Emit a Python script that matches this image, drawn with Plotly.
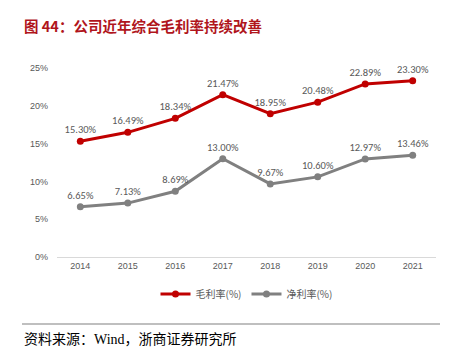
import plotly.graph_objects as go

years = ["2014", "2015", "2016", "2017", "2018", "2019", "2020", "2021"]
gross_margin = [15.30, 16.49, 18.34, 21.47, 18.95, 20.48, 22.89, 23.30]
net_margin = [6.65, 7.13, 8.69, 13.00, 9.67, 10.60, 12.97, 13.46]
y_ticks = [0, 5, 10, 15, 20, 25]
y_tick_labels = ["0%", "5%", "10%", "15%", "20%", "25%"]

W, H = 450, 364
L, R, T, B = 57, 14, 68, 107
pw, ph = W - L - R, H - T - B

def px_x(x):
    return (x - L) / pw

def px_y(y):
    return (H - B - y) / ph

fig = go.Figure()
for name, vals, color in [("毛利率(%)", gross_margin, "#C00000"), ("净利率(%)", net_margin, "#808080")]:
    fig.add_trace(go.Scatter(
        x=years, y=vals, name=name, mode="lines+markers+text",
        line=dict(color=color, width=3),
        marker=dict(color=color, size=7),
        text=[f"{v:.2f}%" for v in vals],
        textposition="top center",
        cliponaxis=False,
        textfont=dict(size=10.5, color="#595959", family="Calibri, Carlito, Liberation Sans, sans-serif"),
    ))

fig.update_layout(
    width=W, height=H,
    margin=dict(l=L, r=R, t=T, b=B),
    paper_bgcolor="white", plot_bgcolor="white",
    font=dict(family="Liberation Sans, Noto Sans CJK SC, sans-serif", color="#595959"),
    showlegend=True,
    legend=dict(orientation="h", x=0.5, xanchor="center", y=px_y(294), yanchor="middle",
                font=dict(size=10, color="#595959", family="Noto Sans CJK SC, sans-serif"),
                itemwidth=30, tracegroupgap=0),
    xaxis=dict(type="category", showgrid=False, showline=True, linecolor="#D9D9D9", linewidth=1,
               ticks="", tickfont=dict(size=9, color="#595959"), zeroline=False),
    yaxis=dict(range=[0, 25], tickvals=y_ticks, ticktext=y_tick_labels, showgrid=False,
               showline=False, zeroline=False, ticks="", ticklabelstandoff=8,
               tickfont=dict(size=9, color="#595959")),
)

fig.add_annotation(xref="paper", yref="paper", x=px_x(22), y=px_y(25), xanchor="left", yanchor="middle",
                   text="<b>图 44：公司近年综合毛利率持续改善</b>", showarrow=False,
                   font=dict(size=14.5, color="#B0151C", family="Noto Sans CJK SC, sans-serif"))
fig.add_shape(type="line", xref="paper", yref="paper", x0=px_x(22), x1=px_x(440), y0=px_y(324), y1=px_y(324),
              line=dict(color="#808080", width=1.2))
fig.add_annotation(xref="paper", yref="paper", x=px_x(22), y=px_y(339), xanchor="left", yanchor="middle",
                   text="资料来源：Wind，浙商证券研究所", showarrow=False,
                   font=dict(size=14, color="#000000", family="Liberation Serif, Noto Sans CJK SC, serif"))

fig.write_html("out.html", config={"displayModeBar": False},
               post_script="document.body.style.margin='0';document.body.style.overflow='hidden';")
